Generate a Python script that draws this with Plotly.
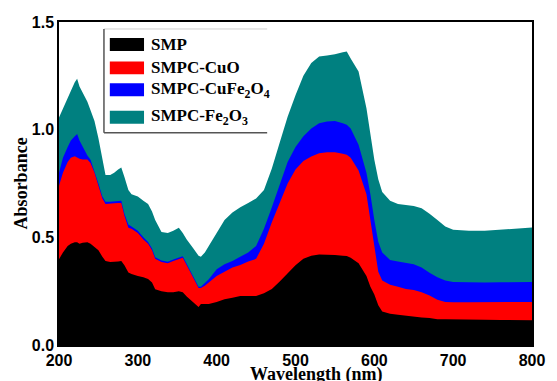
import plotly.graph_objects as go

# Wavelength grid (nm)
wavelength = [200, 205, 211, 215, 220, 223, 226, 230, 236, 240, 245, 250, 255, 259, 265,
              270, 275, 279, 283, 288, 292, 300, 307, 313, 318, 322, 330, 338, 345, 352,
              357, 362, 370, 377, 380, 385, 390, 400, 410, 420, 430, 440, 450, 460, 470,
              480, 490, 500, 510, 520, 530, 540, 550, 560, 565, 570, 580, 590, 595, 600,
              605, 610, 620, 630, 640, 650, 660, 670, 680, 690, 700, 720, 740, 760, 780, 800]

smp = [0.398, 0.43, 0.46, 0.47, 0.477, 0.477, 0.47, 0.475, 0.477, 0.47, 0.455, 0.44, 0.41, 0.39, 0.385,
       0.385, 0.388, 0.39, 0.37, 0.337, 0.33, 0.32, 0.315, 0.306, 0.29, 0.259, 0.25, 0.245, 0.245, 0.25,
       0.245, 0.225, 0.2, 0.176, 0.19, 0.19, 0.19, 0.2, 0.213, 0.22, 0.228, 0.228, 0.228, 0.24, 0.26,
       0.295, 0.335, 0.37, 0.40, 0.415, 0.42, 0.42, 0.418, 0.415, 0.413, 0.405, 0.38, 0.32, 0.27, 0.235,
       0.185, 0.155, 0.145, 0.14, 0.135, 0.132, 0.128, 0.125, 0.12, 0.12, 0.12, 0.118, 0.117, 0.116, 0.115, 0.115]

smpc_cuo = [0.74, 0.80, 0.85, 0.87, 0.876, 0.87, 0.865, 0.862, 0.861, 0.845, 0.80, 0.74, 0.68, 0.655, 0.655,
            0.658, 0.66, 0.66, 0.60, 0.545, 0.54, 0.52, 0.49, 0.47, 0.44, 0.40, 0.385, 0.38, 0.39, 0.40,
            0.405, 0.37, 0.31, 0.265, 0.265, 0.275, 0.29, 0.32, 0.34, 0.36, 0.372, 0.388, 0.40, 0.47, 0.57,
            0.66, 0.75, 0.815, 0.855, 0.875, 0.89, 0.895, 0.895, 0.888, 0.884, 0.87, 0.81, 0.70, 0.58, 0.44,
            0.34, 0.30, 0.28, 0.27, 0.26, 0.255, 0.245, 0.23, 0.21, 0.20, 0.198, 0.198, 0.199, 0.2, 0.2, 0.2]

smpc_cufe2o4 = [0.80, 0.87, 0.92, 0.95, 0.97, 0.98, 0.95, 0.92, 0.88, 0.86, 0.81, 0.75, 0.69, 0.665, 0.665,
                0.668, 0.67, 0.67, 0.61, 0.56, 0.55, 0.53, 0.50, 0.478, 0.448, 0.408, 0.392, 0.387, 0.397, 0.407,
                0.412, 0.377, 0.317, 0.27, 0.27, 0.29, 0.305, 0.352, 0.375, 0.39, 0.41, 0.43, 0.46, 0.54, 0.64,
                0.75, 0.85, 0.92, 0.97, 1.005, 1.03, 1.038, 1.04, 1.03, 1.023, 1.005, 0.93, 0.80, 0.70, 0.58,
                0.48, 0.43, 0.395, 0.388, 0.382, 0.375, 0.36, 0.335, 0.315, 0.30, 0.292, 0.29, 0.29, 0.291, 0.292, 0.293]

smpc_fe2o3 = [1.056, 1.10, 1.15, 1.18, 1.22, 1.236, 1.20, 1.17, 1.13, 1.09, 1.04, 0.96, 0.86, 0.79, 0.79,
              0.80, 0.815, 0.824, 0.78, 0.72, 0.70, 0.69, 0.67, 0.655, 0.62, 0.58, 0.525, 0.52, 0.53, 0.545,
              0.52, 0.49, 0.45, 0.415, 0.41, 0.43, 0.46, 0.52, 0.58, 0.615, 0.64, 0.66, 0.68, 0.72, 0.82,
              0.94, 1.06, 1.16, 1.25, 1.31, 1.34, 1.345, 1.35, 1.36, 1.363, 1.33, 1.27, 1.10, 0.98, 0.86,
              0.77, 0.71, 0.67, 0.655, 0.65, 0.645, 0.635, 0.61, 0.58, 0.55, 0.535, 0.53, 0.53, 0.535, 0.54, 0.546]

series_names = ["SMP", "SMPC-CuO", "SMPC-CuFe<sub>2</sub>O<sub>4</sub>", "SMPC-Fe<sub>2</sub>O<sub>3</sub>"]
series_values = [smp, smpc_cuo, smpc_cufe2o4, smpc_fe2o3]
series_colors = ["#000000", "#FF0000", "#0000FF", "#008080"]

x_ticks = [200, 300, 400, 500, 600, 700, 800]
y_ticks = [0.0, 0.5, 1.0, 1.5]

fig = go.Figure()

# Draw the tallest spectrum first so the lower ones sit on top of it
for name, vals, col in reversed(list(zip(series_names, series_values, series_colors))):
    fig.add_trace(go.Scatter(
        x=wavelength, y=vals, mode="lines", name=name,
        line=dict(width=0, color=col), fill="tozeroy", fillcolor=col,
        showlegend=False, hoverinfo="skip",
    ))

W, H = 557, 381
L, R, T, B = 59, 14, 22, 35
PW, PH = W - L - R, H - T - B


def px(x):
    return (x - L) / PW


def py(y):
    return (H - B - y) / PH


serif = "Liberation Serif, Times New Roman, serif"
sans = "Liberation Sans, Arial, sans-serif"

shapes = []
annotations = []

# Legend frame
shapes.append(dict(type="line", xref="paper", yref="paper", x0=px(105), x1=px(272), y0=py(29), y1=py(29),
                   line=dict(color="#d0d0d0", width=1)))
shapes.append(dict(type="line", xref="paper", yref="paper", x0=px(105), x1=px(105), y0=py(29), y1=py(133),
                   line=dict(color="#555555", width=1.5)))
shapes.append(dict(type="line", xref="paper", yref="paper", x0=px(105), x1=px(272), y0=py(133), y1=py(133),
                   line=dict(color="#555555", width=1.5)))

legend_rows = [44.5, 68, 90, 117.5]
for name, col, yc in zip(series_names, series_colors, legend_rows):
    shapes.append(dict(type="rect", xref="paper", yref="paper",
                       x0=px(111), x1=px(146), y0=py(yc + 6.5), y1=py(yc - 6.5),
                       fillcolor=col, line=dict(width=0)))
    annotations.append(dict(text="<b>%s</b>" % name, xref="paper", yref="paper",
                            x=px(151), y=py(yc), xanchor="left", yanchor="middle",
                            showarrow=False, font=dict(family=serif, size=17, color="black")))

# Axis titles
annotations.append(dict(text="<b>Wavelength (nm)</b>", xref="paper", yref="paper",
                        x=px(322), y=py(376), xanchor="center", yanchor="middle",
                        showarrow=False, font=dict(family=serif, size=18, color="black")))
annotations.append(dict(text="<b>Absorbance</b>", xref="paper", yref="paper",
                        x=px(20), y=py(184), xanchor="center", yanchor="middle", textangle=-90,
                        showarrow=False, font=dict(family=serif, size=18, color="black")))

fig.update_layout(
    width=W, height=H,
    margin=dict(l=L, r=R, t=T, b=B, pad=0),
    paper_bgcolor="white", plot_bgcolor="white",
    shapes=shapes, annotations=annotations,
    showlegend=False,
    xaxis=dict(range=[200, 800], tickvals=x_ticks, ticktext=[str(v) for v in x_ticks],
               showgrid=False, zeroline=False, showline=True, mirror=True,
               linecolor="black", linewidth=1.5, ticks="", ticklen=0,
               tickfont=dict(family=sans, size=16, color="black", weight="bold")),
    yaxis=dict(range=[0, 1.5], tickvals=y_ticks, ticktext=["%.1f" % v for v in y_ticks],
               showgrid=False, zeroline=False, showline=True, mirror=True,
               linecolor="black", linewidth=1.5, ticks="", ticklen=0,
               tickfont=dict(family=sans, size=16, color="black", weight="bold")),
)

fig.write_html("out.html")
